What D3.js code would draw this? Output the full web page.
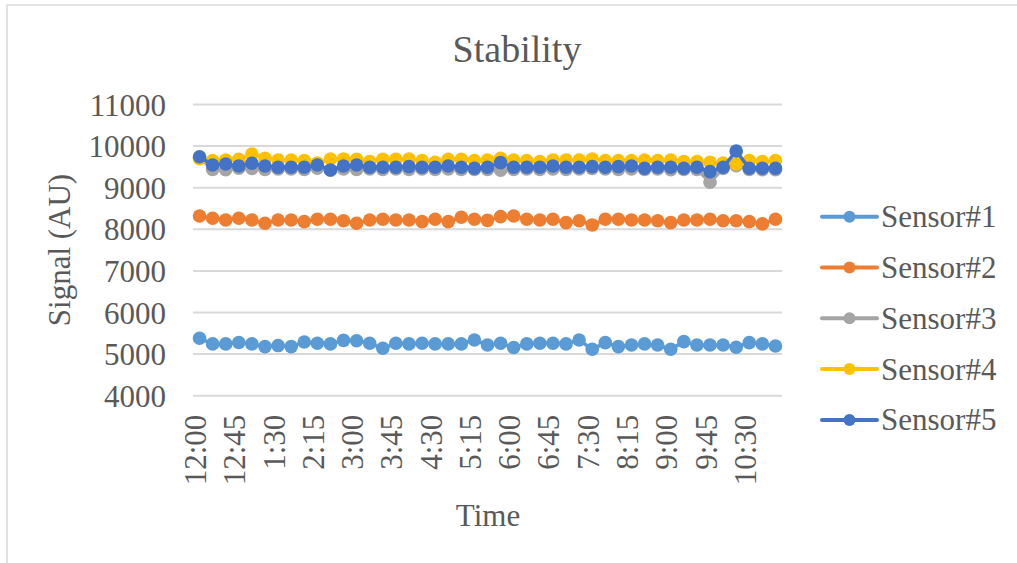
<!DOCTYPE html>
<html>
<head>
<meta charset="utf-8">
<script src="https://cdn.jsdelivr.net/npm/d3@7"></script>
<style>
  html, body { margin: 0; padding: 0; background: #fff; }
  svg { display: block; }
  text { font-family: "Liberation Serif", "Times New Roman", serif; fill: #595959; }
</style>
</head>
<body>
<svg id="chart" width="1017" height="563"></svg>
<script>
// Time stamps, every 15 minutes
const times = ["12:00","12:15","12:30","12:45","1:00","1:15","1:30","1:45","2:00","2:15",
  "2:30","2:45","3:00","3:15","3:30","3:45","4:00","4:15","4:30","4:45",
  "5:00","5:15","5:30","5:45","6:00","6:15","6:30","6:45","7:00","7:15",
  "7:30","7:45","8:00","8:15","8:30","8:45","9:00","9:15","9:30","9:45",
  "10:00","10:15","10:30","10:45","11:00"];

const sensor1 = [5380,5245,5245,5280,5245,5180,5205,5180,5290,5260,
  5245,5330,5320,5260,5140,5260,5245,5260,5245,5245,
  5245,5340,5220,5260,5160,5245,5260,5260,5245,5340,
  5115,5275,5180,5220,5245,5220,5115,5300,5220,5220,
  5220,5165,5275,5245,5195];

const sensor2 = [8320,8265,8225,8265,8225,8145,8225,8225,8185,8240,
  8240,8205,8145,8225,8240,8225,8225,8185,8240,8185,
  8290,8240,8215,8305,8320,8240,8225,8240,8160,8205,
  8105,8240,8240,8225,8225,8205,8160,8225,8225,8240,
  8205,8205,8185,8130,8240];

const sensor3 = [9720,9440,9430,9470,9460,9440,9450,9450,9440,9470,
  9420,9450,9440,9450,9440,9450,9440,9450,9440,9450,
  9440,9440,9440,9420,9440,9450,9440,9450,9440,9450,
  9460,9450,9440,9450,9440,9450,9430,9440,9440,9130,
  9460,9530,9440,9430,9430];

const sensor4 = [9700,9650,9666,9683,9811,9707,9666,9666,9650,9590,
  9690,9690,9683,9626,9683,9683,9690,9650,9610,9683,
  9683,9650,9666,9707,9666,9650,9626,9666,9666,9666,
  9690,9650,9650,9650,9666,9650,9666,9626,9626,9610,
  9590,9570,9650,9626,9650];

const sensor5 = [9745,9546,9570,9522,9587,9522,9490,9490,9490,9546,
  9426,9522,9546,9490,9490,9490,9506,9490,9490,9522,
  9490,9466,9490,9603,9490,9490,9490,9522,9490,9490,
  9506,9490,9506,9522,9466,9490,9490,9466,9490,9386,
  9490,9882,9466,9466,9466];

const seriesNames = ["Sensor#1","Sensor#2","Sensor#3","Sensor#4","Sensor#5"];
const seriesColors = ["#5B9BD5","#ED7D31","#A5A5A5","#FFC000","#4472C4"];
const yTicks = [4000,5000,6000,7000,8000,9000,10000,11000];
const xTickEvery = 3;

const series = seriesNames.map((name, k) => ({
  name,
  color: seriesColors[k],
  values: [sensor1, sensor2, sensor3, sensor4, sensor5][k]
}));

const svg = d3.select("#chart");
const plot = { left: 193, right: 782, top: 104.5, bottom: 395.7 };

// chart frame
svg.append("rect")
  .attr("x", 7).attr("y", 5)
  .attr("width", 1030).attr("height", 600)
  .attr("fill", "#fff").attr("stroke", "#d9d9d9").attr("stroke-width", 1.5);

const x = d3.scalePoint()
  .domain(times)
  .range([plot.left, plot.right])
  .padding(0.5);

const y = d3.scaleLinear()
  .domain([4000, 11000])
  .range([plot.bottom, plot.top]);

// horizontal gridlines
svg.append("g")
  .selectAll("line")
  .data(yTicks)
  .join("line")
  .attr("x1", plot.left).attr("x2", plot.right)
  .attr("y1", d => y(d)).attr("y2", d => y(d))
  .attr("stroke", "#d9d9d9").attr("stroke-width", 2);

// y axis labels
const yAxis = d3.axisLeft(y).tickValues(yTicks).tickSize(0).tickPadding(0).tickFormat(d3.format("d"));
const gy = svg.append("g").attr("transform", "translate(166,0)").call(yAxis);
gy.select(".domain").remove();
gy.selectAll("text")
  .style("font-family", '"Liberation Serif", serif')
  .style("font-size", "31px")
  .attr("fill", "#595959")
  .attr("dy", "0.34em");

// x axis labels, rotated
const xAxis = d3.axisBottom(x)
  .tickValues(times.filter((t, i) => i % xTickEvery === 0))
  .tickSize(0).tickPadding(0);
const gx = svg.append("g").attr("transform", `translate(0,${plot.bottom})`).call(xAxis);
gx.select(".domain").remove();
gx.selectAll("text")
  .style("font-family", '"Liberation Serif", serif')
  .style("font-size", "31px")
  .attr("fill", "#595959")
  .attr("text-anchor", "end")
  .attr("y", 0).attr("dy", 0)
  .attr("transform", "translate(6,19) rotate(-90)");

// series lines and markers
const line = d3.line()
  .x((d, i) => x(times[i]))
  .y(d => y(d));

series.forEach(s => {
  const g = svg.append("g");
  g.append("path")
    .datum(s.values)
    .attr("d", line)
    .attr("fill", "none")
    .attr("stroke", s.color)
    .attr("stroke-width", 3.5)
    .attr("stroke-linejoin", "round");
  g.selectAll("circle")
    .data(s.values)
    .join("circle")
    .attr("cx", (d, i) => x(times[i]))
    .attr("cy", d => y(d))
    .attr("r", 6.8)
    .attr("fill", s.color);
});

// title
svg.append("text")
  .attr("x", 517).attr("y", 62)
  .attr("text-anchor", "middle")
  .style("font-size", "38px")
  .text("Stability");

// axis titles
svg.append("text")
  .attr("transform", "translate(70,250) rotate(-90)")
  .attr("text-anchor", "middle")
  .style("font-size", "31px")
  .text("Signal (AU)");

svg.append("text")
  .attr("x", 488).attr("y", 526)
  .attr("text-anchor", "middle")
  .style("font-size", "31px")
  .text("Time");

// legend
const legend = svg.append("g")
  .selectAll("g")
  .data(series)
  .join("g")
  .attr("transform", (d, i) => `translate(0,${216.7 + i * 50.8})`);

legend.append("line")
  .attr("x1", 822).attr("x2", 877)
  .attr("stroke", d => d.color)
  .attr("stroke-width", 4)
  .attr("stroke-linecap", "round");
legend.append("circle")
  .attr("cx", 849.5).attr("r", 6)
  .attr("fill", d => d.color);
legend.append("text")
  .attr("x", 881).attr("dy", "0.34em")
  .style("font-size", "31px")
  .text(d => d.name);
</script>
</body>
</html>
